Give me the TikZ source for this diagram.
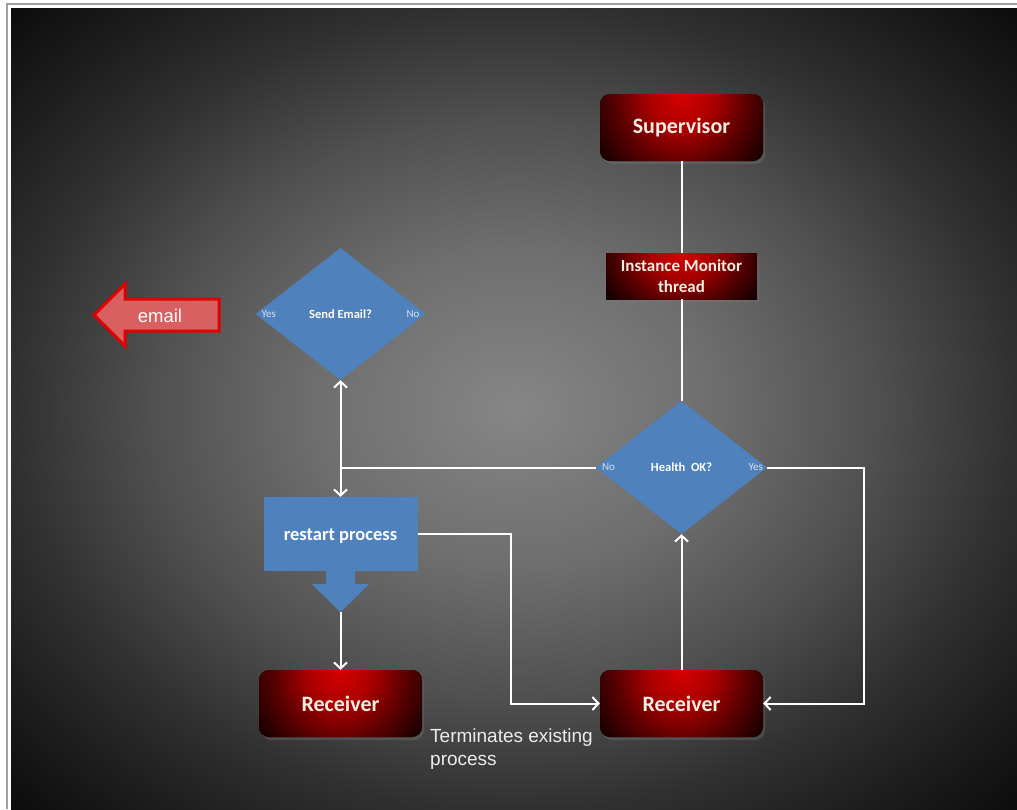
\documentclass[tikz,border=0pt]{standalone}
\usepackage{fontspec}
\usetikzlibrary{shapes.geometric,arrows.meta,shadows,calc}
\newfontfamily\calfont{Carlito}
\newfontfamily\arialfont{Liberation Sans}
\definecolor{bg0}{RGB}{134,134,134}
\definecolor{bg1}{RGB}{110,110,110}
\definecolor{bg2}{RGB}{80,80,80}
\definecolor{bg3}{RGB}{48,48,48}
\definecolor{bg4}{RGB}{30,30,30}
\definecolor{bg5}{RGB}{10,10,10}
\definecolor{rb0}{RGB}{215,0,0}
\definecolor{rb1}{RGB}{170,0,0}
\definecolor{rb2}{RGB}{90,0,0}
\definecolor{rb3}{RGB}{35,0,0}
\definecolor{rb4}{RGB}{12,0,0}
\definecolor{boxblue}{RGB}{79,129,189}
\definecolor{cream}{RGB}{244,238,226}
\definecolor{lablue}{RGB}{214,224,240}
\definecolor{arrfill}{RGB}{216,96,96}
\definecolor{arrline}{RGB}{224,0,0}
\definecolor{framegray}{RGB}{160,160,160}
\definecolor{termtext}{RGB}{236,236,236}
\pgfdeclareradialshading{bgshade}{\pgfpoint{0bp}{0bp}}{color(0bp)=(bg0); color(10bp)=(bg1); color(18bp)=(bg2); color(25bp)=(bg3); color(30bp)=(bg4); color(36bp)=(bg5); color(50bp)=(bg5)}
\pgfdeclareradialshading{redshade}{\pgfpoint{0bp}{0bp}}{color(0bp)=(rb0); color(7.5bp)=(rb1); color(15bp)=(rb2); color(21bp)=(rb3); color(25bp)=(rb4); color(50bp)=(rb4)}
\tikzset{
  redbox/.style={rectangle, rounded corners=10pt, inner sep=0pt, fill=rb4,
    minimum width=163pt, minimum height=67pt, text=cream,
    font=\calfont\bfseries\fontsize{22}{26}\selectfont,
    drop shadow={shadow xshift=2pt, shadow yshift=-3pt, opacity=0.3},
    path picture={\shade[shading=redshade]
      ([xshift=-110pt,yshift=120pt]path picture bounding box.north) rectangle
      ([xshift=110pt,yshift=-120pt]path picture bounding box.north);}},
  monbox/.style={rectangle, inner sep=0pt, align=center, fill=rb4,
    minimum width=151pt, minimum height=46pt, text=cream,
    font=\calfont\bfseries\fontsize{17}{21}\selectfont,
    drop shadow={shadow xshift=2pt, shadow yshift=-3pt, opacity=0.3},
    path picture={\shade[shading=redshade]
      ([xshift=-100pt,yshift=80pt]path picture bounding box.north) rectangle
      ([xshift=100pt,yshift=-80pt]path picture bounding box.north);}},
  decision/.style={diamond, fill=boxblue, inner sep=0pt, text=white,
    font=\calfont\bfseries\fontsize{12.5}{15}\selectfont},
  dlabel/.style={inner sep=0pt, text=lablue, font=\calfont\fontsize{11}{13}\selectfont},
  processbox/.style={rectangle, fill=boxblue, inner sep=0pt, text=white,
    minimum width=154pt, minimum height=74pt, text height=15.5pt, text depth=2.5pt,
    font=\calfont\bfseries\fontsize{18.5}{22}\selectfont},
  conn/.style={draw=white, line width=2pt},
  tip/.style={-{Straight Barb[length=6pt,width=13pt]}},
}
\begin{document}
\begin{tikzpicture}[x=1pt,y=-1pt]
\useasboundingbox (0,0) rectangle (1017,809);
\fill[white] (0,0) rectangle (1017,809);
\draw[framegray, line width=1.5pt] (7,809) -- (7,4) -- (1017,4);
\shade[shading=bgshade] (11,8) rectangle (1017,809);

% nodes
\node[redbox] (sup) at (681.5,127.5) {Supervisor};
\node[monbox] (mon) at (681.5,276) {Instance Monitor\\thread};
\node[decision, minimum width=171pt, minimum height=133pt] (health) at (681.5,467.5) {Health\ \ OK?};
\node[dlabel, anchor=west] (hno) at ([xshift=6pt]health.west) {No};
\node[dlabel, anchor=east] (hyes) at ([xshift=-4pt]health.east) {Yes};
\node[decision, minimum width=170pt, minimum height=132pt] (send) at (340.5,314) {Send Email?};
\node[dlabel, anchor=west] (syes) at ([xshift=6pt]send.west) {Yes};
\node[dlabel, anchor=east] (sno) at ([xshift=-6pt]send.east) {No};
\node[processbox] (rp) at (340.5,534) {restart process};
\fill[boxblue] ([xshift=-14.5pt]rp.south) -- ([xshift=-14.5pt,yshift=-13pt]rp.south)
  -- ([xshift=-28.5pt,yshift=-13pt]rp.south) -- ([yshift=-41pt]rp.south)
  -- ([xshift=28.5pt,yshift=-13pt]rp.south) -- ([xshift=14.5pt,yshift=-13pt]rp.south)
  -- ([xshift=14.5pt]rp.south) -- cycle;
\coordinate (rptip) at ([yshift=-41pt]rp.south);
\node[redbox] (recL) at (340.5,703.5) {Receiver};
\node[redbox] (recR) at (681.5,703.5) {Receiver};

% email arrow
\filldraw[fill=arrfill, draw=arrline, line width=3pt, line join=miter]
  (94,315) -- (125,284) -- (125,299) -- (219,299) -- (219,331) -- (125,331) -- (125,346) -- cycle;
\node[inner sep=0pt, text=white, font=\arialfont\fontsize{18.5}{22}\selectfont] (emailtxt) at (160,316) {email};

\node[anchor=north west, align=left, inner sep=0pt, text=termtext,
  font=\arialfont\fontsize{19}{23}\selectfont] (term) at (430,729) {Terminates existing\\process};

% connectors
\draw[conn] (sup.south) -- (mon.north);
\draw[conn] (mon.south) -- (health.north);
\draw[conn, {Straight Barb[length=6pt,width=13pt]}-{Straight Barb[length=6pt,width=13pt]}] (send.south) -- (rp.north);
\draw[conn] (health.west) -- (send.south |- health.west);
\draw[conn, tip] (rp.east) -- ++(93,0) |- (recR.west);
\draw[conn, tip] (rptip) -- (recL.north);
\draw[conn, tip] (recR.north) -- (health.south);
\draw[conn, tip] (health.east) -- ++(97,0) |- (recR.east);
\end{tikzpicture}
\end{document}
